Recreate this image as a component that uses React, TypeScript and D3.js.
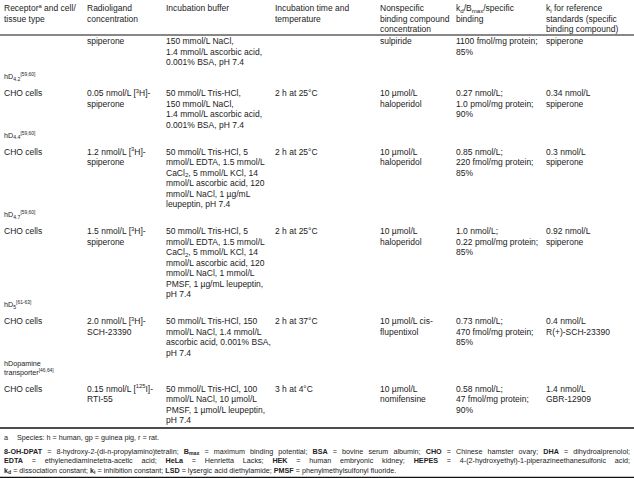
import React, { useRef, useEffect } from "react";
import * as d3 from "d3";

// markup: ^{..} superscript, _{..} subscript, **..** bold
const headers = [
  ["Receptor^{a} and cell/", "tissue type"],
  ["Radioligand", "concentration"],
  ["Incubation buffer"],
  ["Incubation time and", "temperature"],
  ["Nonspecific", "binding compound", "concentration"],
  ["k_{d}/B_{max}/specific", "binding"],
  ["k_{i} for reference", "standards (specific", "binding compound)"],
];

const groupLabels = [
  [],
  ["hD_{4.2}^{[59,60]}"],
  ["hD_{4.4}^{[59,60]}"],
  ["hD_{4.7}^{[59,60]}"],
  ["hD_{5}^{[61-63]}"],
  ["hDopamine", "transporter^{[46,64]}"],
];

const cellTypes = [[], ["CHO cells"], ["CHO cells"], ["CHO cells"], ["CHO cells"], ["CHO cells"]];

const radioligands = [
  ["spiperone"],
  ["0.05 nmol/L [^{3}H]-", "spiperone"],
  ["1.2 nmol/L [^{3}H]-", "spiperone"],
  ["1.5 nmol/L [^{3}H]-", "spiperone"],
  ["2.0 nmol/L [^{3}H]-", "SCH-23390"],
  ["0.15 nmol/L [^{125}I]-", "RTI-55"],
];

const buffers = [
  ["150 mmol/L NaCl,", "1.4 mmol/L ascorbic acid,", "0.001% BSA, pH 7.4"],
  ["50 mmol/L Tris-HCl,", "150 mmol/L NaCl,", "1.4 mmol/L ascorbic acid,", "0.001% BSA, pH 7.4"],
  ["50 mmol/L Tris-HCl, 5", "mmol/L EDTA, 1.5 mmol/L", "CaCl_{2}, 5 mmol/L KCl, 14", "mmol/L ascorbic acid, 120", "mmol/L NaCl, 1 µg/mL", "leupeptin, pH 7.4"],
  ["50 mmol/L Tris-HCl, 5", "mmol/L EDTA, 1.5 mmol/L", "CaCl_{2}, 5 mmol/L KCl, 14", "mmol/L ascorbic acid, 120", "mmol/L NaCl, 1 mmol/L", "PMSF, 1 µg/mL leupeptin,", "pH 7.4"],
  ["50 mmol/L Tris-HCl, 150", "mmol/L NaCl, 1.4 mmol/L", "ascorbic acid, 0.001% BSA,", "pH 7.4"],
  ["50 mmol/L Tris-HCl, 100", "mmol/L NaCl, 10 µmol/L", "PMSF, 1 µmol/L leupeptin,", "pH 7.4"],
];

const incubation = [[], ["2 h at 25°C"], ["2 h at 25°C"], ["2 h at 25°C"], ["2 h at 37°C"], ["3 h at 4°C"]];

const nonspecific = [
  ["sulpiride"],
  ["10 µmol/L", "haloperidol"],
  ["10 µmol/L", "haloperidol"],
  ["10 µmol/L", "haloperidol"],
  ["10 µmol/L cis-", "flupentixol"],
  ["10 µmol/L", "nomifensine"],
];

const bindings = [
  ["1100 fmol/mg protein;", "85%"],
  ["0.27 nmol/L;", "1.0 pmol/mg protein;", "90%"],
  ["0.85 nmol/L;", "220 fmol/mg protein;", "85%"],
  ["1.0 nmol/L;", "0.22 pmol/mg protein;", "85%"],
  ["0.73 nmol/L;", "470 fmol/mg protein;", "85%"],
  ["0.58 nmol/L;", "47 fmol/mg protein;", "90%"],
];

const kiRefs = [
  ["spiperone"],
  ["0.34 nmol/L", "spiperone"],
  ["0.3 nmol/L", "spiperone"],
  ["0.92 nmol/L", "spiperone"],
  ["0.4 nmol/L", "R(+)-SCH-23390"],
  ["1.4 nmol/L", "GBR-12909"],
];

const speciesNote = "Species: h = human, gp = guinea pig, r = rat.";

const abbreviations = [
  "**8-OH-DPAT** = 8-hydroxy-2-(di-n-propylamino)tetralin; **B_{max}** = maximum binding potential; **BSA** = bovine serum albumin; **CHO** = Chinese hamster ovary; **DHA** = dihydroalprenolol;",
  "**EDTA** = ethylenediaminetetra-acetic acid; **HeLa** = Henrietta Lacks; **HEK** = human embryonic kidney; **HEPES** = 4-(2-hydroxyethyl)-1-piperazineethanesulfonic acid;",
  "**k_{d}** = dissociation constant; **k_{i}** = inhibition constant; **LSD** = lysergic acid diethylamide; **PMSF** = phenylmethylsulfonyl fluoride.",
];

const W = 634;
const H = 478;
const colX = [4, 87, 166, 275, 380, 456, 546];
const FS = 8.5;
const LH = 10.5;
const TXT = "#222";

// write markup into a <text> as tspans
const appendRich = (text, str, fs) => {
  let shift = 0;
  str.split("**").forEach((chunk, i) => {
    const bold = i % 2 === 1;
    chunk.split(/(\^\{[^}]*\}|_\{[^}]*\})/).forEach((tok) => {
      if (!tok) return;
      let target = 0;
      let size = fs;
      let content = tok;
      if (tok.startsWith("^{")) {
        target = -fs * 0.38;
        size = fs * 0.68;
        content = tok.slice(2, -1);
      } else if (tok.startsWith("_{")) {
        target = fs * 0.22;
        size = fs * 0.72;
        content = tok.slice(2, -1);
      }
      text.append("tspan")
        .attr("dy", target - shift)
        .attr("font-size", size)
        .attr("font-weight", bold ? "bold" : "normal")
        .text(content);
      shift = target;
    });
  });
};

const TableChart = () => {
  const svgRef = useRef(null);

  useEffect(() => {
    document.body.style.margin = "0";
    const svg = d3.select(svgRef.current);
    svg.selectAll("*").remove();

    svg.append("rect").attr("width", W).attr("height", H).attr("fill", "#fff");

    const g = svg.append("g")
      .attr("font-family", "'Liberation Sans', Arial, sans-serif")
      .attr("fill", TXT);

    const writeLine = (x, y, str, fs = FS) => {
      const t = g.append("text").attr("x", x).attr("y", y).attr("font-size", fs);
      appendRich(t, str, fs);
      return t;
    };

    // header
    headers.forEach((lines, c) => {
      lines.forEach((l, i) => writeLine(colX[c], 11 + i * LH, l));
    });

    const rule = (y, w = 1) => {
      svg.append("line")
        .attr("x1", 0).attr("x2", W)
        .attr("y1", y).attr("y2", y)
        .attr("stroke", "#111").attr("stroke-width", w);
    };
    rule(35, 1);

    // body rows (first block continues from the previous page, so a bit more air after it)
    const columns = [cellTypes, radioligands, buffers, incubation, nonspecific, bindings, kiRefs];
    let y = 44;
    let last = y;
    groupLabels.forEach((label, r) => {
      if (label.length) {
        const ly = last + (r === 1 ? 14 : 10);
        label.forEach((l, i) => {
          writeLine(colX[0], ly + i * 9, l, 7.2);
        });
        y = ly + (label.length - 1) * 9 + 17;
      }
      let maxLines = 0;
      columns.forEach((col, c) => {
        col[r].forEach((l, i) => writeLine(colX[c], y + i * LH, l));
        maxLines = Math.max(maxLines, col[r].length);
      });
      last = y + (maxLines - 1) * LH;
    });

    rule(428, 1.3);

    // footnotes
    writeLine(4, 440, "a", 7.2);
    writeLine(17, 440, speciesNote, 7.2);

    abbreviations.forEach((l, i) => {
      const t = writeLine(4, 453.5 + i * 9.6, l, 7.2);
      if (i < abbreviations.length - 1) {
        const node = t.node();
        const w = node.getComputedTextLength();
        const spaces = (l.match(/ /g) || []).length;
        t.style("word-spacing", `${(W - 8 - w) / spaces}px`);
      }
    });

    rule(477.3, 1.3);
  }, []);

  return <svg ref={svgRef} width={W} height={H} style={{ display: "block" }} />;
};

export default function App() {
  return <TableChart />;
}
